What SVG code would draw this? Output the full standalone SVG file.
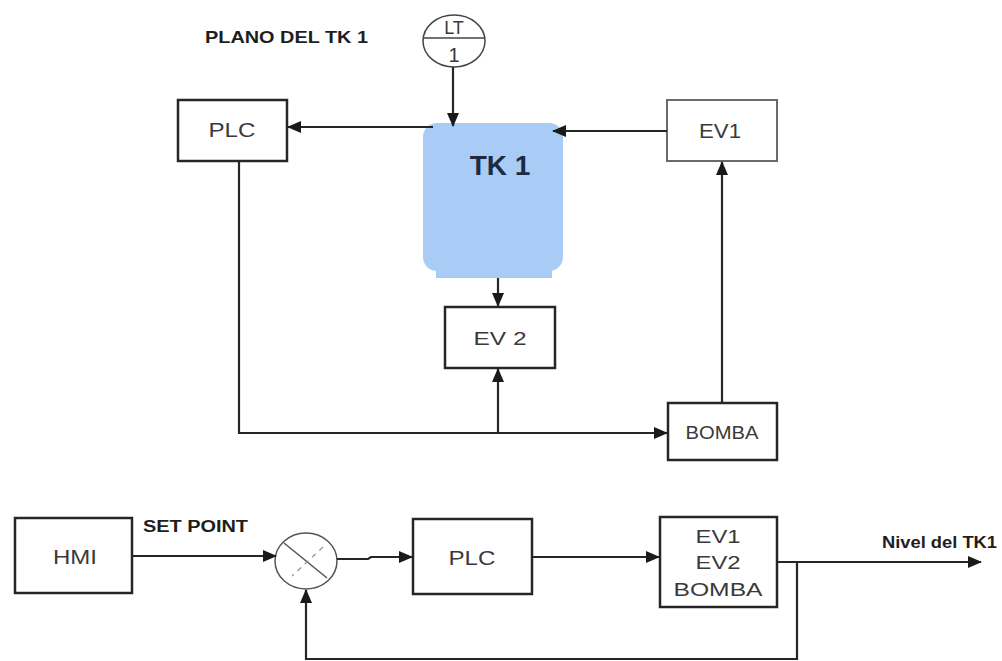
<svg xmlns="http://www.w3.org/2000/svg" width="1002" height="661" viewBox="0 0 1002 661">
<style>
.box{fill:#fff;stroke:#262626;stroke-width:2.5}
.lbl{font-family:"Liberation Sans",Arial,sans-serif;fill:#3a3a3a;text-anchor:middle}
.bold{font-family:"Liberation Sans",Arial,sans-serif;font-weight:bold;fill:#1e1e1e}
.wire{fill:none;stroke:#262626;stroke-width:2.2}
</style>
<defs>
<marker id="ah" markerUnits="userSpaceOnUse" markerWidth="14" markerHeight="12" viewBox="0 0 14 12" refX="13" refY="6" orient="auto">
<path d="M0,0 L14,6 L0,12 Z" fill="#1a1a1a"/>
</marker>
</defs>
<rect width="1002" height="661" fill="#fff"/>

<text class="bold" x="205" y="43" font-size="17" textLength="163" lengthAdjust="spacingAndGlyphs">PLANO DEL TK 1</text>

<g id="lt1">
<ellipse cx="454" cy="41" rx="31" ry="26" fill="#fff" stroke="#444" stroke-width="1.5"/>
<line x1="423" y1="38" x2="485" y2="38" stroke="#444" stroke-width="1.5"/>
<text class="lbl" x="454" y="34" font-size="18">LT</text>
<text class="lbl" x="454" y="62" font-size="20">1</text>
</g>

<g id="tk1">
<rect x="436" y="258" width="116" height="20" fill="#a9ccf6"/>
<rect x="423" y="123" width="140" height="148" rx="14" fill="#a9ccf6"/>
<text x="500" y="175" font-family="Liberation Sans,Arial,sans-serif" font-weight="bold" font-size="28" fill="#1b2b45" text-anchor="middle">TK 1</text>
</g>

<g id="plc-top">
<rect class="box" x="178" y="100" width="109" height="61"/>
<text class="lbl" x="232" y="137" font-size="20" textLength="47" lengthAdjust="spacingAndGlyphs">PLC</text>
</g>

<g id="ev1-top">
<rect x="667" y="100" width="110" height="61" fill="#fff" stroke="#6a6a6a" stroke-width="2"/>
<text class="lbl" x="720" y="138" font-size="20" textLength="42" lengthAdjust="spacingAndGlyphs">EV1</text>
</g>

<g id="ev2-top">
<rect class="box" x="445" y="307" width="110" height="61"/>
<text class="lbl" x="500" y="345" font-size="18.5" textLength="53" lengthAdjust="spacingAndGlyphs">EV 2</text>
</g>

<g id="bomba-top">
<rect class="box" x="668" y="403" width="109" height="57"/>
<text class="lbl" x="722" y="439" font-size="17.5" textLength="73" lengthAdjust="spacingAndGlyphs">BOMBA</text>
</g>

<g id="hmi">
<rect class="box" x="15" y="518" width="117" height="75"/>
<text class="lbl" x="75" y="564" font-size="20" textLength="44" lengthAdjust="spacingAndGlyphs">HMI</text>
</g>

<g id="sum">
<ellipse cx="306" cy="561" rx="31" ry="28" fill="#fff" stroke="#555" stroke-width="1.5"/>
<line x1="284" y1="543" x2="327" y2="578" stroke="#555" stroke-width="1.5"/>
<line x1="323" y1="547" x2="292" y2="576" stroke="#999" stroke-width="1.3" stroke-dasharray="5,5"/>
</g>

<g id="plc-bottom">
<rect class="box" x="413" y="519" width="119" height="75"/>
<text class="lbl" x="472" y="565" font-size="20" textLength="47" lengthAdjust="spacingAndGlyphs">PLC</text>
</g>

<g id="actuadores">
<rect class="box" x="660" y="517" width="117" height="90"/>
<text class="lbl" x="718" y="543" font-size="18" textLength="45" lengthAdjust="spacingAndGlyphs">EV1</text>
<text class="lbl" x="718" y="569" font-size="18" textLength="45" lengthAdjust="spacingAndGlyphs">EV2</text>
<text class="lbl" x="718" y="596" font-size="18" textLength="89" lengthAdjust="spacingAndGlyphs">BOMBA</text>
</g>

<text class="bold" x="143" y="532" font-size="16" textLength="105" lengthAdjust="spacingAndGlyphs">SET POINT</text>
<text class="bold" x="882" y="548" font-size="16" textLength="115" lengthAdjust="spacingAndGlyphs">Nivel del TK1</text>

<g id="connectors">
<line class="wire" x1="453" y1="67" x2="453" y2="126" marker-end="url(#ah)"/>
<line class="wire" x1="433" y1="127" x2="288" y2="127" marker-end="url(#ah)"/>
<line class="wire" x1="667" y1="131" x2="553" y2="131" marker-end="url(#ah)"/>
<line class="wire" x1="722" y1="403" x2="722" y2="162" marker-end="url(#ah)"/>
<line class="wire" x1="498" y1="278" x2="498" y2="306" marker-end="url(#ah)"/>
<path class="wire" d="M239,161 V433 H667" marker-end="url(#ah)"/>
<line class="wire" x1="498" y1="433" x2="498" y2="369" marker-end="url(#ah)"/>
<line class="wire" x1="132" y1="556" x2="276" y2="556" marker-end="url(#ah)"/>
<path class="wire" d="M337,559 H368 L371,557 H412" marker-end="url(#ah)"/>
<line class="wire" x1="532" y1="557" x2="659" y2="557" marker-end="url(#ah)"/>
<line class="wire" x1="777" y1="562" x2="981" y2="562" marker-end="url(#ah)"/>
<path class="wire" d="M797,562 V659 H306 V590" marker-end="url(#ah)"/>
</g>
</svg>
